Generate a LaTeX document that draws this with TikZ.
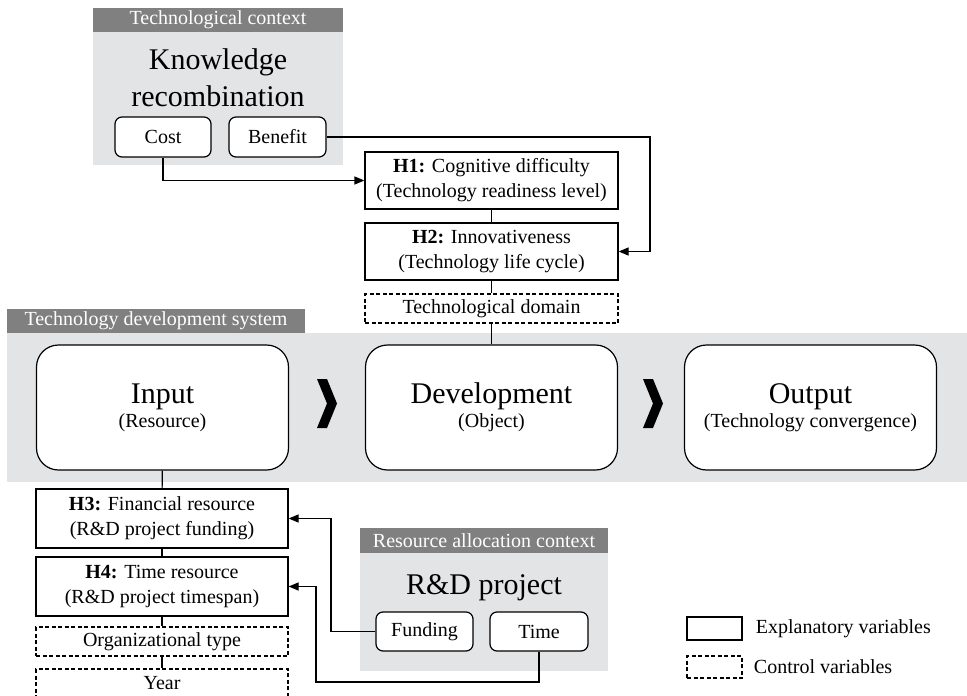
\documentclass[tikz,border=0pt]{standalone}
\usepackage{fontspec}
\setmainfont{Liberation Serif}
\usetikzlibrary{arrows.meta}
\definecolor{bandgray}{RGB}{227,228,230}
\definecolor{headgray}{RGB}{128,128,128}
\newcommand{\smalltext}{\fontsize{20}{25}\selectfont}
\newcommand{\bigtext}{\fontsize{30}{37}\selectfont}
\begin{document}
\begin{tikzpicture}[x=1pt,y=-1pt,line width=1.2pt,>={Triangle[length=10pt,width=8pt]},
	var/.style={draw,inner sep=0pt,align=center,font=\smalltext},
	ctrl/.style={var,dash pattern=on 4pt off 2.5pt},
	sub/.style={var,rounded corners=7pt,fill=white},
	stage/.style={draw,rounded corners=22pt,fill=white,inner sep=0pt,minimum width=252pt,minimum height=125pt,align=center,font=\smalltext},
	head/.style={fill=headgray,text=white,inner sep=0pt,font=\smalltext}]
		\useasboundingbox (0,0) rectangle (967,696);
		\fill[bandgray] (93,32) rectangle (343,165);
		\fill[bandgray] (7,333) rectangle (967,482);
		\fill[bandgray] (360,553) rectangle (608,671);
		\node[head,minimum width=250pt,minimum height=24pt] (techhead) at (218,20) {Technological context};
		\node[head,minimum width=298pt,minimum height=24pt] (systemhead) at (156,321) {Technology development system};
		\node[head,minimum width=248pt,minimum height=25pt] (allochead) at (484,540.5) {Resource allocation context};
		\node[font=\bigtext,align=center] (knowledge) at (218,78) {Knowledge\\recombination};
		\node[font=\bigtext] (rdproject) at (484,588) {R\&D project};
		\node[sub,minimum width=96pt,minimum height=40pt] (cost) at (163,137) {Cost};
		\node[sub,minimum width=97pt,minimum height=40pt] (benefit) at (277.5,137) {Benefit};
		\node[sub,minimum width=97pt,minimum height=39pt] (funding) at (424.5,631.5) {Funding};
		\node[sub,minimum width=98pt,minimum height=39pt] (time) at (539,631.5) {Time};
		\node[var,minimum width=253pt,minimum height=57pt] (h1) at (491.5,180.5) {\textbf{H1:} Cognitive difficulty\\(Technology readiness level)};
		\node[var,minimum width=253pt,minimum height=57pt] (h2) at (491.5,251.5) {\textbf{H2:} Innovativeness\\(Technology life cycle)};
		\node[ctrl,minimum width=253pt,minimum height=29pt] (domain) at (491.5,308.5) {Technological domain};
		\node[stage] (input) at (162.5,407.5) {{\bigtext Input}\\[-1pt](Resource)};
		\node[stage] (dev) at (491.5,407.5) {{\bigtext Development}\\[-1pt](Object)};
		\node[stage] (output) at (810.5,407.5) {{\bigtext Output}\\[-1pt](Technology convergence)};
		\foreach \cx in {317,643}
			\fill (\cx,379) -- ++(10,0) -- ++(10,24.5) -- ++(-10,24.5) -- ++(-10,0) -- ++(10,-24.5) -- cycle;
		\node[var,minimum width=252pt,minimum height=59pt] (h3) at (162,518.5) {\textbf{H3:} Financial resource\\(R\&D project funding)};
		\node[var,minimum width=252pt,minimum height=59pt] (h4) at (162,586.5) {\textbf{H4:} Time resource\\(R\&D project timespan)};
		\node[ctrl,minimum width=252pt,minimum height=29pt] (orgtype) at (162,641.5) {Organizational type};
		\node[ctrl,minimum width=252pt,minimum height=29pt] (year) at (162,683.5) {Year};
		\node[var,minimum width=55pt,minimum height=23pt] (legexp) at (714.5,628.5) {};
		\node[ctrl,minimum width=55pt,minimum height=22pt] (legctrl) at (714.5,667) {};
		\node[font=\smalltext,anchor=west] (explabel) at (752,628.5) {Explanatory variables};
		\node[font=\smalltext,anchor=west] (ctrllabel) at (750,667) {Control variables};
		\coordinate (bturn) at (650,137);
		\coordinate (fturn) at (331,518.5);
		\coordinate (tturn) at (316,682);
		\draw[->] (cost.south) |- (h1.west);
		\draw[->] (benefit.east) -- (bturn) |- (h2.east);
		\draw (h1) -- (h2);
		\draw (h2) -- (domain);
		\draw (domain) -- (dev);
		\draw (input) -- (h3);
		\draw (h3) -- (h4);
		\draw (h4) -- (orgtype);
		\draw (orgtype) -- (year);
		\draw[->] (funding.west) -| (fturn) -- (h3.east);
		\draw[->] (time.south) |- (tturn) |- (h4.east);
\end{tikzpicture}
\end{document}
